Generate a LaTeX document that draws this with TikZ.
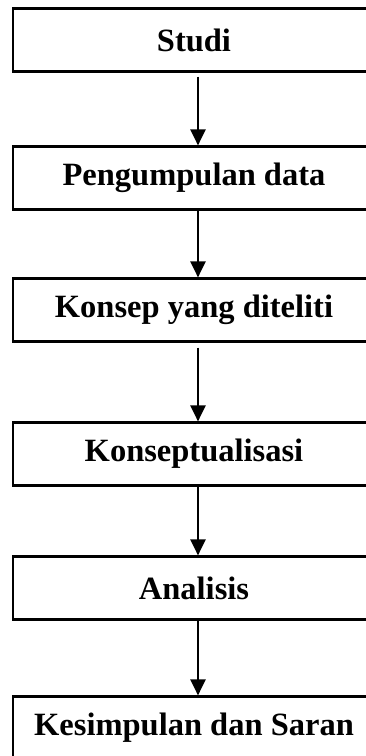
\documentclass[tikz,border=0pt]{standalone}
\usepackage{fontspec}
\setmainfont{Liberation Serif}
\usetikzlibrary{arrows.meta,positioning}

\tikzset{
  tahap/.style={draw, line width=2.2pt, minimum width=362pt, minimum height=63pt,
    inner sep=0pt, font=\fontsize{32.5}{38}\selectfont\bfseries},
  panah/.style={line width=2.2pt, -{Triangle[length=16pt,width=15pt]}}
}

\begin{document}
\begin{tikzpicture}[x=1pt,y=-1pt]
	\clip (0,0) rectangle (366,756);
	% tahapan penelitian
	\node[tahap] (studi) at (194,40) {Studi};
	\node[tahap] (kumpul) at (194,178) {Pengumpulan data};
	\node[tahap] (konsep) at (194,310) {Konsep yang diteliti};
	\node[tahap] (konseptual) at (194,454) {Konseptualisasi};
	\node[tahap] (analisis) at (194,588) {Analisis};
	\node[tahap] (simpul) at (194,728) {Kesimpulan dan Saran};
	% panah
	\draw[panah, shorten <=4pt] ([xshift=4pt]studi.south) -- ([xshift=4pt]kumpul.north);
	\draw[panah] ([xshift=4pt]kumpul.south) -- ([xshift=4pt]konsep.north);
	\draw[panah, shorten <=5pt] ([xshift=4pt]konsep.south) -- ([xshift=4pt]konseptual.north);
	\draw[panah] ([xshift=4pt]konseptual.south) -- ([xshift=4pt]analisis.north);
	\draw[panah] ([xshift=4pt]analisis.south) -- ([xshift=4pt]simpul.north);
\end{tikzpicture}
\end{document}
